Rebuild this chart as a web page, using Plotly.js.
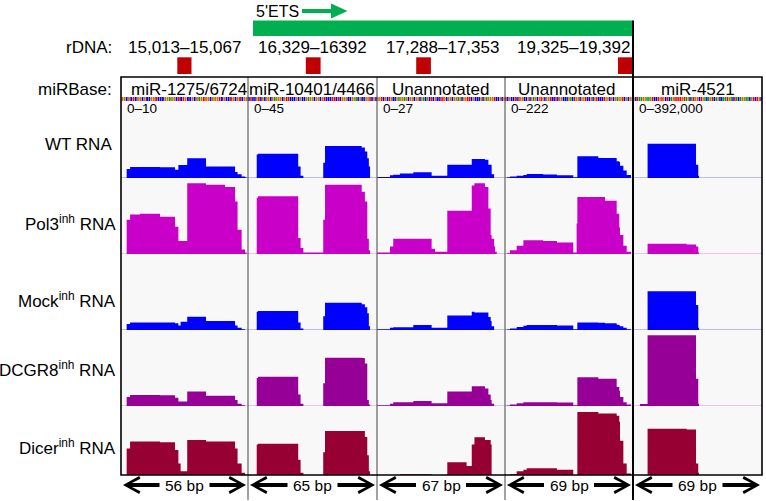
<!DOCTYPE html>
<html><head><meta charset="utf-8">
<script src="https://cdn.plot.ly/plotly-3.0.1.min.js"></script>
<style>html,body{margin:0;padding:0;background:#fff;}#chart{width:766px;height:501px;}</style>
</head><body><div id="chart"></div>
<script>
// ---------------- DATA ----------------
const columnTitles = ["miR-1275/6724", "miR-10401/4466", "Unannotated", "Unannotated", "miR-4521"];
const dataRanges = ["0\u201310", "0\u201345", "0\u201327", "0\u2013222", "0\u2013392,000"];
const rdnaRanges = ["15,013\u201315,067", "16,329\u201316392", "17,288\u201317,353", "19,325\u201319,392"];
const bpLengths = [56, 65, 67, 69, 69];
const rowNames = ["WT RNA", "Pol3<sup>inh</sup> RNA", "Mock<sup>inh</sup> RNA", "DCGR8<sup>inh</sup> RNA", "Dicer<sup>inh</sup> RNA"];

// reference sequence shown in the colored strip (one letter per bp)
const seq1 = "GGCGCTCGGCGCCGGTCCCGGAGGCTCTGCCGCGAGTGGCGGGTCGCCTGCGTCGG";
const seq2 = "CTCCGTCGCGGCGAGGGCGTTCCCGCGCCGAGGCGGCGTCCCTTCTCGGGCCGGACGCCGGTCGC";
const seq3 = "GGTCGCTGCCGAGGAGCGGCGGCGACGCTCGCCTTGCGGCGGAGCGGTTCGCCCGCGAGGGTCCGCG";
const seq4 = "TCGCCTCTGGCCGCGAGCGTGCGGTCCTCGGCCCGACTGGCGGTCCGCGTCCCTGGCGCGAGGTCGCGG";
const seq5 = "GCTAAGGAAGTCCTGTGCTCAGTTTTGTAGCATGGCTGACAGTCAGCCAATGACTACAGGAACGTCTGC";

// coverage: bp breakpoints per locus, then coverage (% of data range) per interval for each sample
const col1_bp    = [2.5, 4, 8.4, 17.2, 23.8, 25.3, 26.3, 29.2, 37.5, 45.9, 50.3, 51.4, 53.2, 54.7, 55.4];
const col1_wt    = [12, 14.5, 14.5, 14, 11, 17, 17, 26, 15, 15, 8, 5, 2, 1];
const col1_pol3  = [45, 52, 53, 49, 36, 17, 17, 93, 91, 88, 69, 32, 6, 2];
const col1_mock  = [8, 10, 10, 10, 9, 6, 11, 17.5, 12, 12, 6, 3, 1, 0];
const col1_dcgr8 = [12, 14.5, 14.5, 14, 11, 6, 6, 19, 13.6, 13.6, 8, 3, 1, 0];
const col1_dicer = [35, 44, 44, 43, 33, 15, 5, 46, 44, 44, 35, 15, 3, 0];

const col2_bp    = [4.4, 5, 25.3, 26.5, 27.9, 37.9, 38.8, 57.3, 58.9, 60.1, 60.9, 61.5];
const col2_wt    = [31, 32, 15, 3, 0, 20, 42, 40, 35, 26, 15];
const col2_pol3  = [74, 76, 21, 8, 2, 45, 91, 82, 69, 20, 5];
const col2_mock  = [24, 25, 10, 2, 0, 18, 36, 34, 30, 22, 5];
const col2_dcgr8 = [37, 38.6, 15, 3, 0, 30, 63.6, 63, 56, 8, 2];
const col2_dicer = [40, 41, 20, 3, 0, 30, 58, 58, 50, 26, 5];

const col3_bp    = [0.2, 6.8, 8.5, 12, 19, 28.6, 30.4, 36.8, 46.9, 49.6, 51, 56.5, 58.3, 59.5, 60, 61.3, 61.8, 62.7];
const col3_wt    = [1.3, 3.5, 4.4, 6, 7.5, 3, 3, 17.5, 17.5, 25, 25, 24, 17.5, 17.5, 5, 0, 0];
const col3_pol3  = [2, 10, 20, 20, 20, 7, 3, 57, 57, 90, 93, 88, 60, 25, 20, 10, 3];
const col3_mock  = [1, 3, 3.5, 3.5, 6.6, 3, 3, 19, 19, 24, 23, 23, 17, 12, 5, 0, 0];
const col3_dcgr8 = [1, 3, 4.8, 4.8, 6.6, 3.5, 3.5, 19, 19, 26, 26, 23, 15, 8, 3, 0, 0];
const col3_dicer = [0, 0, 0, 1, 1, 0, 0, 16.7, 12, 40, 49.6, 46, 46, 40, 0, 0, 0];

const col4_bp    = [0.9, 2.7, 6.3, 9.9, 11.7, 20.6, 28, 36.8, 38.6, 39, 50.3, 53.9, 60.2, 61.6, 62, 63.8, 65.6, 67.9];
const col4_wt    = [1, 2, 3, 4, 5.3, 4.5, 3.5, 1, 1, 28.5, 26.3, 26.3, 22, 21, 16, 10, 4];
const col4_pol3  = [1, 5, 11, 18, 18, 17, 15, 2, 40, 75, 75, 70, 53, 35, 25, 11, 3];
const col4_mock  = [0.5, 2, 4, 5.5, 6.6, 6.6, 6, 1, 1, 10, 9.5, 9, 7, 6, 5, 3, 1];
const col4_dcgr8 = [0.5, 2, 3.5, 4.8, 4.8, 4.8, 4.5, 1, 1, 37.7, 36, 36, 25, 20, 12, 5, 2];
const col4_dicer = [0, 1, 5, 7, 8.8, 8.8, 7, 0, 0, 83, 81, 81, 78, 70, 45, 15, 2];

const col5_bp    = [3.7, 7.8, 28.7, 33.7, 34.9, 35.3];
const col5_wt    = [0, 45, 45, 17.5, 3];
const col5_pol3  = [0, 13.6, 12.5, 10, 2];
const col5_mock  = [0, 51, 51, 33, 3];
const col5_dcgr8 = [2.5, 93, 93, 36, 3];
const col5_dicer = [0, 61, 60, 15, 3];

// ---------------- STYLE / LAYOUT ----------------
const W = 766, H = 501;
const FONT = "Liberation Sans, Arial, Helvetica, sans-serif";
const px = x => x / W;
const py = y => 1 - y / H;
const colEdgesPx = [121, 248, 377, 505, 633, 762];
const rowBasePx = [178, 254, 330, 406, 475];
const rowUnitPx = 76;
const rowColors = ["#0000ff", "#c800c8", "#0000ff", "#960096", "#960032"];
const baseColors = ["#7f7fff", "#e68ae6", "#7f7fff", "#d890d8", null];
const baseColor = {A: "#00a000", C: "#0000ff", G: "#d17105", T: "#ff0000"};

const bps = [col1_bp, col2_bp, col3_bp, col4_bp, col5_bp];
const cov = [
  [col1_wt, col2_wt, col3_wt, col4_wt, col5_wt],
  [col1_pol3, col2_pol3, col3_pol3, col4_pol3, col5_pol3],
  [col1_mock, col2_mock, col3_mock, col4_mock, col5_mock],
  [col1_dcgr8, col2_dcgr8, col3_dcgr8, col4_dcgr8, col5_dcgr8],
  [col1_dicer, col2_dicer, col3_dicer, col4_dicer, col5_dicer]
];
const seqs = [seq1, seq2, seq3, seq4, seq5];

const axName = (p, i) => i === 0 ? p : p + (i + 1);

const traces = [];
for (let r = 0; r < 5; r++) {
  for (let c = 0; c < 5; c++) {
    const e = bps[c], h = cov[r][c];
    const x = [0].concat(e, [bpLengths[c]]);
    const y = [0].concat(h, [0, 0]);
    traces.push({
      type: "scatter", mode: "lines", x: x, y: y,
      xaxis: axName("x", c), yaxis: axName("y", r),
      line: {width: 0, shape: "hv", color: rowColors[r]},
      fill: "tozeroy", fillcolor: rowColors[r], hoverinfo: "skip"
    });
  }
}
for (let c = 0; c < 5; c++) {
  const s = seqs[c].split("");
  traces.push({
    type: "bar", x: s.map((_, i) => i + 0.5), y: s.map(() => 1), width: 0.8,
    marker: {color: s.map(b => baseColor[b]), line: {width: 0}},
    xaxis: axName("x", c), yaxis: "y6", hoverinfo: "skip"
  });
}

const layout = {
  width: W, height: H, margin: {l: 0, r: 0, t: 0, b: 0},
  paper_bgcolor: "#ffffff", plot_bgcolor: "rgba(0,0,0,0)", showlegend: false,
  font: {family: FONT, color: "#000"},
  shapes: [], annotations: []
};
for (let c = 0; c < 5; c++) {
  layout[axName("xaxis", c)] = {domain: [px(colEdgesPx[c]), px(colEdgesPx[c + 1])], range: [0, bpLengths[c]],
    visible: false, fixedrange: true, anchor: "y"};
}
for (let r = 0; r < 5; r++) {
  layout[axName("yaxis", r)] = {domain: [py(rowBasePx[r]), py(rowBasePx[r] - rowUnitPx)], range: [0, 100],
    visible: false, fixedrange: true, anchor: "x"};
}
layout.yaxis6 = {domain: [py(101), py(97)], range: [0, 1], visible: false, fixedrange: true, anchor: "x"};

const S = layout.shapes, A = layout.annotations;
const poly = (pts, color) => S.push({type: "path", xref: "paper", yref: "paper",
  path: "M " + pts.map(p => px(p[0]) + "," + py(p[1])).join(" L ") + " Z", fillcolor: color, line: {width: 0}});
// panel background
S.push({type: "rect", xref: "paper", yref: "paper", x0: px(121), x1: px(762), y0: py(475), y1: py(101),
  fillcolor: "#f8f8f8", line: {width: 0}, layer: "below"});
// baselines
for (let r = 0; r < 4; r++) {
  S.push({type: "line", xref: "paper", yref: axName("y", r), x0: px(121), x1: px(762), y0: 0, y1: 0,
    line: {color: baseColors[r], width: 1}, layer: "below"});
}
// green 5'ETS bar and arrow
S.push({type: "rect", xref: "paper", yref: "paper", x0: px(253), x1: px(633), y0: py(36), y1: py(20.5),
  fillcolor: "#00b050", line: {width: 0}});
S.push({type: "line", xref: "paper", yref: "paper", x0: px(302), x1: px(334), y0: py(11), y1: py(11),
  line: {color: "#00b050", width: 4}});
poly([[331, 3.5], [347.5, 11], [331, 18.5]], "#00b050");
// red rDNA locus markers
[[177.3, 191.5], [305.8, 320.6], [416.2, 430.9], [618, 632.6]].forEach(([a, b]) => {
  S.push({type: "rect", xref: "paper", yref: "paper", x0: px(a), x1: px(b), y0: py(74), y1: py(57.3),
    fillcolor: "#c00000", line: {width: 0}});
});
// dividers
[248, 377, 505].forEach(x => S.push({type: "line", xref: "paper", yref: "paper", x0: px(x), x1: px(x),
  y0: py(500), y1: py(77), line: {color: "#444", width: 1}}));
S.push({type: "rect", xref: "paper", yref: "paper", x0: px(121), x1: px(762), y0: py(475), y1: py(77),
  line: {color: "#000", width: 1.6}});
S.push({type: "line", xref: "paper", yref: "paper", x0: px(633), x1: px(633), y0: py(500), y1: py(20.5),
  line: {color: "#000", width: 2}});

// texts
const txt = (text, x, y, size, xanchor) => A.push({text: text, xref: "paper", yref: "paper", x: px(x), y: py(y),
  xanchor: xanchor || "center", yanchor: "middle", showarrow: false, font: {size: size, family: FONT, color: "#000"}});
txt("5'ETS", 254, 11, 16, "left");
txt("rDNA:", 114, 48, 17, "right");
const rdnaX = [184.5, 312.5, 442.5, 573.5];
rdnaRanges.forEach((t, i) => txt(t, rdnaX[i], 48, 17));
txt("miRBase:", 114, 89, 17, "right");
const titleX = [188.5, 312, 440.5, 566.5, 697.5];
columnTitles.forEach((t, i) => txt(t, titleX[i], 89.5, 17));
dataRanges.forEach((t, i) => txt(t, colEdgesPx[i] + 3.5, 109, 13.5, "left"));
const rowLabelY = [144, 223, 300, 369, 447];
rowNames.forEach((t, i) => txt(t, i === 0 ? 114 : 118, rowLabelY[i], 17, "right"));

// bp-length double arrows (chevron heads + shafts)
const AY = 485, HS = 3;
const head = [[-4.2, -2.1], [-0.4, -0.2], [-0.4, 0.2], [-4.2, 2.1], [-3.8, 3], [1.6, 0], [-3.8, -3]];
for (let c = 0; c < 5; c++) {
  const L = colEdgesPx[c] + 2, R = colEdgesPx[c + 1] - 2, mid = (colEdgesPx[c] + colEdgesPx[c + 1]) / 2;
  txt(bpLengths[c] + " bp", mid, AY, 15.5);
  poly(head.map(p => [L - (p[0] - 1.6) * HS, AY + p[1] * HS]), "#000");
  poly(head.map(p => [R + (p[0] - 1.6) * HS, AY + p[1] * HS]), "#000");
  S.push({type: "line", xref: "paper", yref: "paper", x0: px(L + 4), x1: px(mid - 25), y0: py(AY), y1: py(AY),
    line: {color: "#000", width: 4}});
  S.push({type: "line", xref: "paper", yref: "paper", x0: px(mid + 25), x1: px(R - 4), y0: py(AY), y1: py(AY),
    line: {color: "#000", width: 4}});
}

Plotly.newPlot("chart", traces, layout, {displayModeBar: false, staticPlot: true});
</script></body></html>
